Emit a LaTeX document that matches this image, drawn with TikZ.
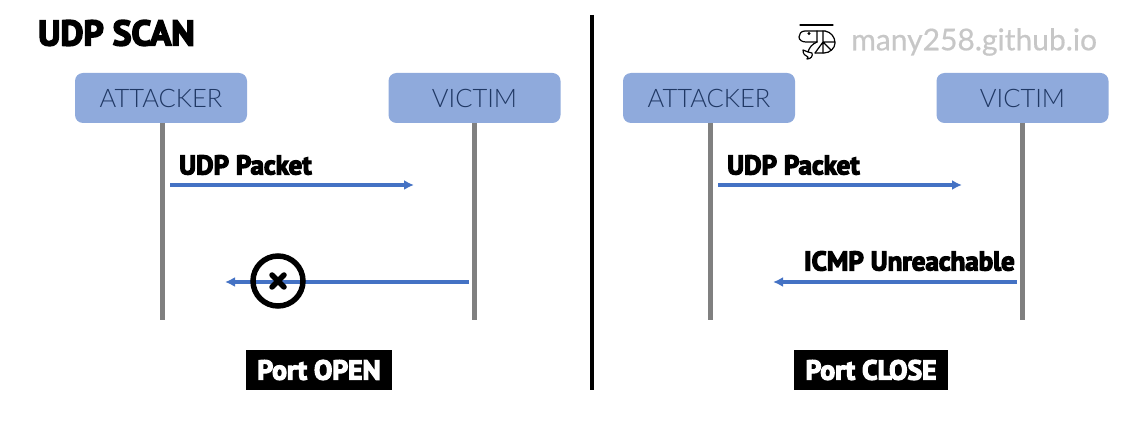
\documentclass[tikz,border=0pt]{standalone}
\usepackage{fontspec}
\setmainfont{Lato}
\newfontfamily\heavy[FakeBold=4.5]{PT Sans Bold}
\newfontfamily\thin{Lato Light}
\newfontfamily\wmfont[FakeBold=0.6]{Lato}
\usetikzlibrary{arrows.meta}
\definecolor{boxblue}{HTML}{8FAADC}
\definecolor{arrowblue}{HTML}{4472C4}
\definecolor{navy}{HTML}{203864}
\tikzset{
  x=1pt,y=-1pt,
  actor/.style={fill=boxblue,rounded corners=8pt,minimum width=172pt,minimum height=50pt,inner sep=0pt,text=navy,font=\thin\fontsize{25.5}{26}\selectfont},
  life/.style={draw=black!50,line width=5pt},
  msg/.style={draw=arrowblue,line width=3.2pt,-{Latex[length=10pt,width=10pt]}},
  lbl/.style={inner sep=0pt,font=\heavy\fontsize{27}{27}\selectfont,text=black},
  result/.style={fill=black,text=white,inner sep=0pt,minimum height=40pt,font=\heavy\fontsize{27.5}{27}\selectfont},
  icon/.style={draw=black,line width=1.2pt,line cap=round,line join=round}
}
\begin{document}
\begin{tikzpicture}
\useasboundingbox (0,0) rectangle (1140,430);
\node[lbl,anchor=west,font=\heavy\fontsize{35.5}{35}\selectfont] (title) at (38,33) {UDP SCAN};
% divider
\coordinate (dtop) at (592,15);
\coordinate (dbot) at (592,390);
\draw[line width=4pt,black] (dtop) -- (dbot);
% left
\node[actor] (a1) at (161,98) {ATTACKER};
\node[actor] (v1) at (474.5,98) {VICTIM};
\coordinate (a1e) at (162,320);
\coordinate (v1e) at (474.5,320);
\draw[life] (162,123) -- (a1e);
\draw[life] (474.5,123) -- (v1e);
\coordinate (m1s) at (170,185);
\coordinate (m1e) at (414,185);
\draw[msg] (m1s) -- (m1e);
\node[lbl,anchor=west] (l1) at (179,165) {UDP Packet};
\coordinate (m2s) at (469,282);
\coordinate (m2e) at (225,282);
\draw[msg] (m2s) -- (m2e);
\node[circle,draw=black,line width=5.5pt,minimum size=50pt,inner sep=0pt] (blk) at (278,281) {};
\coordinate (x1) at (272,275);
\coordinate (x2) at (284,287);
\coordinate (x3) at (284,275);
\coordinate (x4) at (272,287);
\draw[line width=5.5pt,line cap=round] (x1) -- (x2) (x3) -- (x4);
\node[result,minimum width=146pt] (r1) at (319,370) {Port OPEN};
% right
\node[actor] (a2) at (709,98) {ATTACKER};
\node[actor] (v2) at (1022.5,98) {VICTIM};
\coordinate (a2e) at (710,320);
\coordinate (v2e) at (1022.5,320);
\draw[life] (710,123) -- (a2e);
\draw[life] (1022.5,123) -- (v2e);
\coordinate (m3s) at (718,185);
\coordinate (m3e) at (962,185);
\draw[msg] (m3s) -- (m3e);
\node[lbl,anchor=west] (l3) at (727,165) {UDP Packet};
\coordinate (m4s) at (1017,282);
\coordinate (m4e) at (773,282);
\draw[msg] (m4s) -- (m4e);
\node[lbl,anchor=east] (l4) at (1015,261) {ICMP Unreachable};
\node[result,minimum width=154pt] (r2) at (871,370) {Port CLOSE};
% watermark
\node[anchor=west,inner sep=0pt,text=black!22,font=\wmfont\fontsize{30}{30}\selectfont] (wm) at (851,42) {many258.github.io};
% shrimp logo
\draw[icon] (800,25) -- (833,25);
\draw[icon] (825,31) -- (805,31) .. controls (801,31) and (799,34) .. (799,37) .. controls (799,40) and (802,42) .. (806,42) -- (817,42);
\draw[icon] (825,31) .. controls (831,32) and (835,37) .. (835,43) .. controls (835,48) and (830,53) .. (824,53) -- (815,53);
\draw[icon] (817,31) -- (817,42) (823,31) -- (823,53) (823,42) -- (835,42) (823,42) -- (831,50) (823,42) -- (815,53);
\draw[icon] (817,42) .. controls (812,44) and (809,48) .. (808,52) -- (803,50) .. controls (803,54) and (805,56) .. (808,57) -- (807,59) .. controls (811,59) and (813,56) .. (812,53) -- (808,52);
\fill (809,33.5) circle (1.6pt);
\end{tikzpicture}
\end{document}
